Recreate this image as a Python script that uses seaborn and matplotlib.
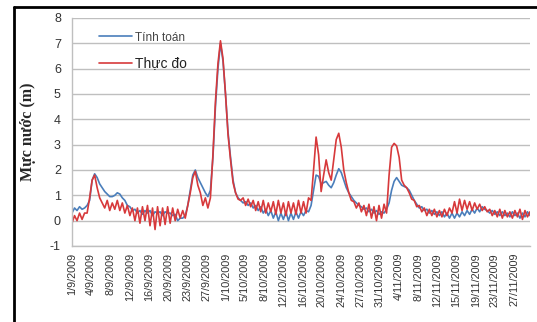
import numpy as np
import pandas as pd
import matplotlib
matplotlib.use("Agg")
import matplotlib.pyplot as plt
from matplotlib.lines import Line2D
import seaborn as sns

# half-day samples, 1/9/2009 .. 30/11/2009
tinh_toan = [
    0.3, 0.5, 0.4, 0.55, 0.45, 0.5, 0.6, 0.8, 1.6, 1.85,
    1.7, 1.45, 1.3, 1.15, 1.05, 0.95, 0.95, 1.0, 1.1, 1.05,
    0.9, 0.8, 0.6, 0.55, 0.4, 0.45, 0.3, 0.4, 0.25, 0.4,
    0.3, 0.4, 0.2, 0.35, 0.3, 0.35, 0.2, 0.35, 0.3, 0.3,
    0.2, 0.25, 0.0, 0.1, 0.1, 0.2, 0.6, 1.2, 1.8, 2.0,
    1.7, 1.5, 1.3, 1.1, 0.95, 1.2, 2.5, 4.5, 6.0, 7.0,
    6.3, 5.0, 3.5, 2.5, 1.6, 1.1, 0.9, 0.8, 0.7, 0.75,
    0.6, 0.7, 0.5, 0.6, 0.4, 0.55, 0.3, 0.45, 0.2, 0.4,
    0.1, 0.35, 0.0, 0.3, 0.05, 0.35, 0.0, 0.3, 0.05, 0.35,
    0.1, 0.35, 0.2, 0.4, 0.35, 0.6, 1.2, 1.8, 1.75, 1.45,
    1.5, 1.55, 1.4, 1.3, 1.5, 1.8, 2.05, 1.9, 1.6, 1.3,
    1.1, 0.95, 0.8, 0.7, 0.6, 0.55, 0.45, 0.5, 0.35, 0.45,
    0.3, 0.4, 0.25, 0.35, 0.3, 0.45, 0.7, 1.2, 1.55, 1.7,
    1.55, 1.4, 1.35, 1.3, 1.2, 1.0, 0.8, 0.65, 0.5, 0.55,
    0.4, 0.45, 0.3, 0.4, 0.25, 0.35, 0.2, 0.35, 0.15, 0.3,
    0.1, 0.3, 0.1, 0.3, 0.15, 0.35, 0.2, 0.4, 0.25, 0.45,
    0.3, 0.5, 0.35, 0.55, 0.45, 0.4, 0.3, 0.4, 0.25, 0.35,
    0.2, 0.35, 0.2, 0.3, 0.15, 0.35, 0.2, 0.3, 0.1, 0.3,
    0.15, 0.35, 0.2,
]
thuc_do = [
    -0.1, 0.2, 0.0, 0.3, 0.05, 0.3, 0.3, 0.9, 1.6, 1.8,
    1.3, 0.9, 0.7, 0.5, 0.8, 0.4, 0.7, 0.45, 0.8, 0.4,
    0.7, 0.3, 0.6, 0.2, 0.5, 0.0, 0.5, -0.1, 0.55, 0.0,
    0.6, -0.2, 0.5, -0.35, 0.55, -0.2, 0.5, -0.15, 0.55, -0.1,
    0.5, 0.0, 0.45, 0.1, 0.4, 0.1, 0.6, 1.1, 1.7, 1.95,
    1.4, 1.1, 0.6, 0.9, 0.5, 0.9, 2.6, 4.7, 6.2, 7.1,
    6.4, 5.0, 3.4, 2.4, 1.5, 1.1, 0.85, 0.8, 0.9, 0.6,
    0.85, 0.55, 0.8, 0.4, 0.75, 0.35, 0.8, 0.3, 0.7, 0.35,
    0.75, 0.25, 0.8, 0.3, 0.7, 0.2, 0.75, 0.3, 0.7, 0.25,
    0.8, 0.3, 0.75, 0.3, 0.9, 0.8, 2.0, 3.3, 2.6, 1.15,
    1.8, 2.4, 1.9, 1.6, 2.4, 3.2, 3.45, 2.9, 2.0, 1.5,
    1.1, 0.8, 0.75, 0.5, 0.7, 0.35, 0.6, 0.2, 0.65, 0.1,
    0.55, 0.0, 0.6, 0.1, 0.65, 0.3, 1.8, 2.9, 3.05, 2.95,
    2.5, 1.6, 1.4, 1.3, 1.1, 0.85, 0.8, 0.55, 0.6, 0.35,
    0.5, 0.2, 0.45, 0.2, 0.45, 0.15, 0.4, 0.15, 0.45, 0.2,
    0.5, 0.3, 0.75, 0.3, 0.85, 0.4, 0.8, 0.45, 0.75, 0.4,
    0.7, 0.45, 0.65, 0.4, 0.55, 0.35, 0.45, 0.2, 0.4, 0.15,
    0.45, 0.1, 0.4, 0.15, 0.35, 0.1, 0.4, 0.15, 0.45, 0.05,
    0.4, 0.15, 0.35,
]
tick_labels = [
    "1/9/2009", "4/9/2009", "8/9/2009", "12/9/2009", "16/9/2009", "20/9/2009",
    "23/9/2009", "27/9/2009", "1/10/2009", "5/10/2009", "8/10/2009", "12/10/2009",
    "16/10/2009", "20/10/2009", "24/10/2009", "27/10/2009", "31/10/2009", "4/11/2009",
    "8/11/2009", "12/11/2009", "15/11/2009", "19/11/2009", "23/11/2009", "27/11/2009",
]
series_names = ["Tính toán", "Thực đo"]
colors = ["#4A7EBB", "#D7393B"]

step_days = 0.5
t = np.arange(len(tinh_toan)) * step_days
df = pd.concat([
    pd.DataFrame({"day": t, "value": tinh_toan, "series": series_names[0]}),
    pd.DataFrame({"day": t, "value": thuc_do, "series": series_names[1]}),
])

sns.set_theme(style="white")
plt.rcParams["font.family"] = ["Liberation Sans", "DejaVu Sans"]

fig = plt.figure(figsize=(5.37, 3.22), dpi=100)
ax = fig.add_axes([72/537, 1-246/322, (530-72)/537, (246-18)/322])

sns.lineplot(data=df, x="day", y="value", hue="series", palette=colors,
             hue_order=series_names, linewidth=1.2, ax=ax, legend=False)

ax.set_ylim(-1, 8)
ax.set_xlim(0, t[-1])
ax.set_yticks(range(-1, 9))
ax.set_yticklabels([str(v) for v in range(-1, 9)], fontsize=9, color="#333333")
ax.yaxis.grid(True, color="#BFBFBF", linewidth=1)
ax.set_axisbelow(True)

tick_step = 3.82
ax.set_xticks(np.arange(len(tick_labels)) * tick_step)
ax.set_xticklabels(tick_labels, rotation=90, fontsize=7.8, color="#333333")
ax.tick_params(axis="y", length=0, pad=8)
ax.tick_params(axis="x", length=0, pad=5)

for s in ["top", "right"]:
    ax.spines[s].set_visible(False)
for s in ["left", "bottom"]:
    ax.spines[s].set_color("#BFBFBF")
    ax.spines[s].set_linewidth(1)

ax.set_xlabel("")
ax.set_ylabel("Mực nước (m)", fontsize=11.5, fontweight="bold",
              family=["Liberation Serif", "DejaVu Serif"], labelpad=10)

handles = [Line2D([0], [0], color=c, lw=1.2) for c in colors]
leg = ax.legend(handles, series_names, loc="upper left", bbox_to_anchor=(0.035, 0.99),
                frameon=False, handlelength=2.6, handletextpad=0.25,
                labelspacing=1.0, fontsize=9)
leg.get_texts()[0].set_fontsize(8.5)
leg.get_texts()[0].set_color("#444444")
leg.get_texts()[1].set_fontsize(10)
leg.get_texts()[1].set_color("#222222")

# outer black frame (left and top edges)
fig.add_artist(Line2D([14/537, 14/537], [0, 1-7/322], color="black", lw=2,
                      transform=fig.transFigure))
fig.add_artist(Line2D([14/537, 1], [1-7/322, 1-7/322], color="black", lw=2,
                      transform=fig.transFigure))

fig.savefig("out.png", dpi=100)
